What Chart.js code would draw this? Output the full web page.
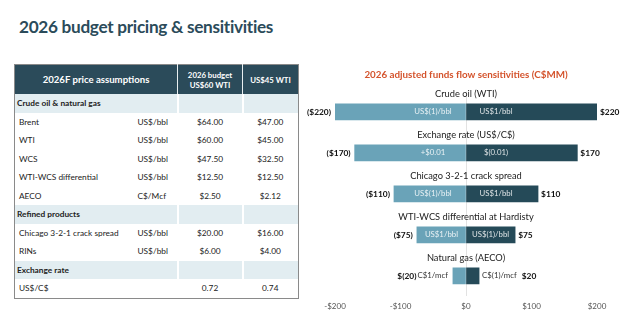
<!DOCTYPE html>
<html>
<head>
<meta charset="utf-8">
<script src="https://cdn.jsdelivr.net/npm/chart.js@4.4.1/dist/chart.umd.min.js"></script>
<style>
  body { margin: 0; width: 620px; height: 323px; background: #fff; font-family: Lato, sans-serif; position: relative; overflow: hidden; }
  h1 { position: absolute; left: 19px; top: 16px; margin: 0; font-size: 17.2px; font-weight: 700; color: #2b4b5a; letter-spacing: -0.3px; }
  #tbl { position: absolute; left: 14px; top: 64px; width: 284px; border-collapse: collapse; border: 1px solid #8a8a8a; font-size: 8.3px; color: #222; table-layout: fixed; }
  #tbl th { background: #2b4b5a; color: #fff; font-weight: 700; height: 29px; padding: 0; border-left: 1px solid #e8eef0; text-align: center; line-height: 10px; font-size: 7.8px; }
  #tbl th:first-child { border-left: none; font-size: 9.6px; }
  #tbl td { height: 18.5px; padding: 0; }
  #tbl td.name { padding-left: 4px; }
  #tbl td.num { text-align: center; }
  #tbl tr.sec td { background: #e2edf1; font-weight: 700; border-left: 2px solid #fff; }
  #tbl tr.sec td:first-child { border-left: none; padding-left: 2px; }
  #wrap { position: absolute; left: 300px; top: 60px; width: 320px; height: 263px; }
</style>
</head>
<body>
<h1>2026 budget pricing &amp; sensitivities</h1>
<table id="tbl">
  <colgroup><col style="width:123px"><col style="width:40px"><col style="width:65px"><col style="width:56px"></colgroup>
  <thead></thead>
  <tbody></tbody>
</table>
<div id="wrap"><canvas id="chart"></canvas></div>
<script>
// table data
const tableHead = ["2026F price assumptions", "2026 budget<br>US$60 WTI", "US$45 WTI"];
const tableRows = [
  ["Crude oil & natural gas"],
  ["Brent", "US$/bbl", "$64.00", "$47.00"],
  ["WTI", "US$/bbl", "$60.00", "$45.00"],
  ["WCS", "US$/bbl", "$47.50", "$32.50"],
  ["WTI-WCS differential", "US$/bbl", "$12.50", "$12.50"],
  ["AECO", "C$/Mcf", "$2.50", "$2.12"],
  ["Refined products"],
  ["Chicago 3-2-1 crack spread", "US$/bbl", "$20.00", "$16.00"],
  ["RINs", "US$/bbl", "$6.00", "$4.00"],
  ["Exchange rate"],
  ["US$/C$", "", "0.72", "0.74"]
];

// chart data
const categories = ["Crude oil (WTI)", "Exchange rate (US$/C$)", "Chicago 3-2-1 crack spread", "WTI-WCS differential at Hardisty", "Natural gas (AECO)"];
const lowValues = [-220, -170, -110, -75, -20];
const highValues = [220, 170, 110, 75, 20];
const lowText = ["($220)", "($170)", "($110)", "($75)", "$(20)"];
const highText = ["$220", "$170", "$110", "$75", "$20"];
const lowBarLabels = ["US$(1)/bbl", "+$0.01", "US$(1)/bbl", "US$1/bbl", "C$1/mcf"];
const highBarLabels = ["US$1/bbl", "$(0.01)", "US$1/bbl", "US$(1)/bbl", "C$(1)/mcf"];
const tickValues = [-200, -100, 0, 100, 200];

const thead = document.querySelector("#tbl thead");
const hr = document.createElement("tr");
hr.innerHTML = '<th colspan="2">' + tableHead[0] + '</th><th>' + tableHead[1] + '</th><th>' + tableHead[2] + '</th>';
thead.appendChild(hr);

const tbody = document.querySelector("#tbl tbody");
for (let i = 0; i < tableRows.length; i++) {
    const r = tableRows[i];
    const tr = document.createElement("tr");
    if (r.length === 1) {
        tr.className = "sec";
        tr.innerHTML = '<td colspan="2">' + r[0].replace("&", "&amp;") + '</td><td></td><td></td>';
    } else {
        tr.innerHTML = '<td class="name">' + r[0] + '</td><td>' + r[1] + '</td><td class="num">' + r[2] + '</td><td class="num">' + r[3] + '</td>';
    }
    tbody.appendChild(tr);
}

Chart.defaults.font.family = "Lato";

// category names above the bars, labels inside/next to bars, totals at the ends
const labelPlugin = {
    id: "labels",
    afterDatasetsDraw(chart) {
        const ctx = chart.ctx;
        const area = chart.chartArea;
        const zero = chart.scales.x.getPixelForValue(0);
        const lowMeta = chart.getDatasetMeta(0);
        const highMeta = chart.getDatasetMeta(1);
        ctx.save();
        ctx.textBaseline = "middle";
        for (let i = 0; i < categories.length; i++) {
            const yc = lowMeta.data[i].y;
            const left = Math.max(lowMeta.data[i].x, area.left);
            const right = Math.min(highMeta.data[i].x, area.right);

            ctx.font = "9.3px Lato";
            ctx.fillStyle = "#222";
            ctx.textAlign = "center";
            ctx.fillText(categories[i], zero, yc - 17.5);

            ctx.font = "7.8px Lato";
            const lw = ctx.measureText(lowBarLabels[i]).width;
            const rw = ctx.measureText(highBarLabels[i]).width;
            let lowEdge = left;
            let highEdge = right;
            if (zero - left > lw + 6) {
                ctx.fillStyle = "rgba(255,255,255,0.85)";
                ctx.fillText(lowBarLabels[i], zero - Math.min((zero - left) / 2, 33), yc);
                ctx.fillText(highBarLabels[i], zero + Math.min((right - zero) / 2, 30), yc);
            } else {
                ctx.fillStyle = "#333";
                ctx.textAlign = "right";
                ctx.fillText(lowBarLabels[i], left - 5, yc);
                ctx.textAlign = "left";
                ctx.fillText(highBarLabels[i], right + 3, yc);
                lowEdge = left - 5 - lw + 3;
                highEdge = right + 3 + rw + 2;
            }

            ctx.font = "bold 8.4px Lato";
            ctx.fillStyle = "#111";
            ctx.textAlign = "right";
            ctx.fillText(lowText[i], lowEdge - 4, yc);
            ctx.textAlign = "left";
            ctx.fillText(highText[i], highEdge + 3, yc);
        }
        ctx.restore();
    }
};

new Chart(document.getElementById("chart"), {
    type: "bar",
    data: {
        labels: categories,
        datasets: [{
            data: lowValues,
            backgroundColor: "#6aa3b8",
            barThickness: 16
        }, {
            data: highValues,
            backgroundColor: "#254a58",
            barThickness: 16
        }]
    },
    options: {
        indexAxis: "y",
        responsive: true,
        maintainAspectRatio: false,
        animation: false,
        layout: { padding: { left: 35, right: 23, top: 0, bottom: 7 } },
        plugins: {
            legend: { display: false },
            tooltip: { enabled: false },
            title: {
                display: true,
                text: "2026 adjusted funds flow sensitivities (C$MM)",
                color: "#d4532c",
                font: { size: 9.8, weight: "bold" },
                padding: { top: 9, bottom: 10.7 }
            }
        },
        scales: {
            x: {
                stacked: true,
                min: -200,
                max: 200,
                afterBuildTicks: function(scale) {
                    scale.ticks = tickValues.map(v => ({ value: v }));
                },
                grid: {
                    drawTicks: false,
                    color: ctx => ctx.tick && ctx.tick.value === 0 ? "#e2e2e2" : "rgba(0,0,0,0)"
                },
                border: { display: false },
                ticks: {
                    color: "#555",
                    font: { size: 8 },
                    padding: 5,
                    callback: v => (v < 0 ? "-$" : "$") + Math.abs(v)
                }
            },
            y: {
                stacked: true,
                display: false
            }
        }
    },
    plugins: [labelPlugin]
});
</script>
</body>
</html>
